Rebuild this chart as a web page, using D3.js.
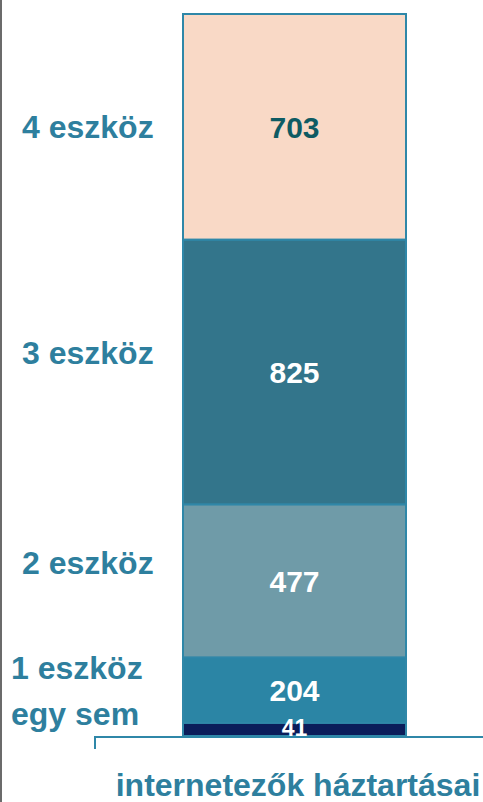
<!DOCTYPE html>
<html>
<head>
<meta charset="utf-8">
<script src="https://cdn.jsdelivr.net/npm/d3@7"></script>
<style>
  body { margin: 0; background: #fff; }
  svg { display: block; font-family: "Liberation Sans", Arial, sans-serif; font-weight: bold; }
</style>
</head>
<body>
<script>
// data, bottom to top
var categories = ["egy sem", "1 eszköz", "2 eszköz", "3 eszköz", "4 eszköz"];
var values = [41, 204, 477, 825, 703];
var groups = ["internetezők háztartásai"];

var colors = ["#0b1d5a", "#2b85a5", "#6f9ba8", "#33758b", "#f9d9c6"];
var valueColors = ["#ffffff", "#ffffff", "#ffffff", "#ffffff", "#0e5b63"];
// small nudges for the left labels (px), so they do not overlap
var labelNudge = [-15, -22, -18, -19, 0];
var labelIndent = [11, 11, 22, 22, 22];

var width = 483, height = 802;
var svg = d3.select("body").append("svg")
    .attr("width", width)
    .attr("height", height);

var stack = [];
var acc = 0;
values.forEach(function(v, i) {
  stack.push({cat: categories[i], value: v, y0: acc, y1: acc + v, i: i});
  acc += v;
});

var y = d3.scaleLinear().domain([0, acc]).range([736, 14]);
var x = d3.scaleBand().domain(groups).range([182, 407]).padding(0);

// left frame line
svg.append("line")
    .attr("x1", 1).attr("x2", 1)
    .attr("y1", 0).attr("y2", height)
    .attr("stroke", "#6b6b6b")
    .attr("stroke-width", 2);

svg.append("clipPath").attr("id", "barclip")
  .append("rect")
    .attr("x", x(groups[0]))
    .attr("y", y(acc))
    .attr("width", x.bandwidth())
    .attr("height", y(0) - y(acc));

var g = svg.append("g");

g.selectAll("rect.seg")
  .data(stack)
  .enter().append("rect")
    .attr("class", "seg")
    .attr("x", x(groups[0]) + 1)
    .attr("y", function(d) { return y(d.y1); })
    .attr("width", x.bandwidth() - 2)
    .attr("height", function(d) { return y(d.y0) - y(d.y1); })
    .attr("fill", function(d) { return colors[d.i]; })
    .attr("stroke", "#2f87a8")
    .attr("stroke-width", 2);

// value labels
g.selectAll("text.val")
  .data(stack)
  .enter().append("text")
    .attr("class", "val")
    .attr("clip-path", "url(#barclip)")
    .attr("x", x(groups[0]) + x.bandwidth() / 2)
    .attr("y", function(d) { return (y(d.y0) + y(d.y1)) / 2 + (d.i === 0 ? 7 : 11); })
    .attr("text-anchor", "middle")
    .attr("font-size", function(d) { return d.i === 0 ? 23 : 30; })
    .attr("fill", function(d) { return valueColors[d.i]; })
    .text(function(d) { return d.value; });

// category labels on the left
svg.selectAll("text.cat")
  .data(stack)
  .enter().append("text")
    .attr("class", "cat")
    .attr("x", function(d) { return labelIndent[d.i]; })
    .attr("y", function(d) { return (y(d.y0) + y(d.y1)) / 2 + labelNudge[d.i] + 11; })
    .attr("font-size", 32)
    .attr("fill", "#2e7f9e")
    .text(function(d) { return d.cat; });

// bottom axis
var xAxis = d3.scaleBand().domain(groups).range([95, 501]);
var axis = svg.append("g")
    .attr("transform", "translate(0," + 737 + ")")
    .call(d3.axisBottom(xAxis).tickSize(0).tickPadding(36));

axis.select(".domain")
    .attr("d", "M95,12V0H" + width)
    .attr("stroke", "#2f87a8")
    .attr("stroke-width", 2)
    .attr("fill", "none");

axis.selectAll(".tick text")
    .attr("font-size", 32)
    .attr("font-family", "Liberation Sans, Arial, sans-serif")
    .attr("font-weight", "bold")
    .attr("fill", "#2e7f9e")
    .attr("transform", "translate(" + (298 - (95 + 501) / 2) + ",0)");
</script>
</body>
</html>
